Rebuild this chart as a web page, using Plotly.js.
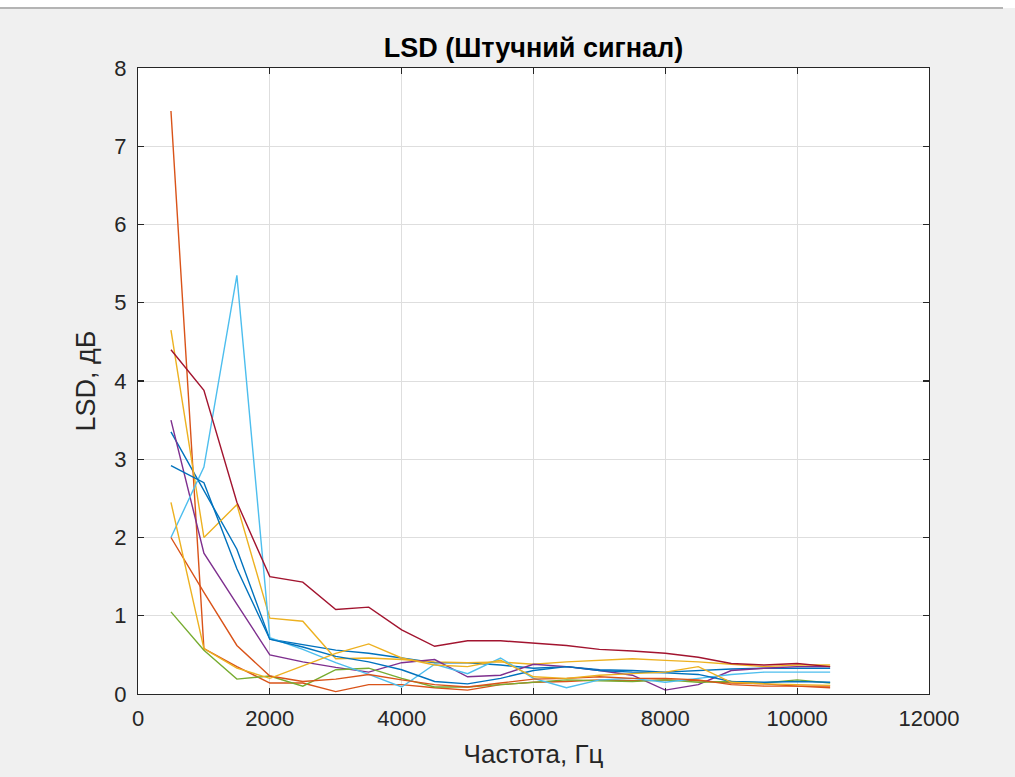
<!DOCTYPE html>
<html>
<head>
<meta charset="utf-8">
<script src="https://cdn.plot.ly/plotly-3.0.1.min.js"></script>
<style>
  html, body { margin: 0; padding: 0; background: #f0f0f0; }
  #chart { width: 1015px; height: 777px; }
</style>
</head>
<body>
<div id="chart"></div>
<script>
// Frequency grid, Hz
const freq = [500, 1000, 1500, 2000, 2500, 3000, 3500, 4000, 4500, 5000, 5500,
              6000, 6500, 7000, 7500, 8000, 8500, 9000, 9500, 10000, 10500];

// Log-spectral distance per test run, dB
const run1  = [3.35, 2.60, 1.85, 0.70, 0.63, 0.56, 0.52, 0.46, 0.40, 0.40, 0.37, 0.33, 0.35, 0.31, 0.30, 0.28, 0.30, 0.32, 0.33, 0.33, 0.33];
const run2  = [7.45, 0.58, 0.35, 0.14, 0.14, 0.03, 0.12, 0.12, 0.08, 0.05, 0.12, 0.15, 0.16, 0.18, 0.17, 0.18, 0.17, 0.14, 0.13, 0.10, 0.08];
const run3  = [4.65, 2.00, 2.42, 0.97, 0.93, 0.45, 0.46, 0.44, 0.41, 0.40, 0.41, 0.38, 0.41, 0.43, 0.45, 0.43, 0.41, 0.38, 0.35, 0.37, 0.37];
const run4  = [3.50, 1.80, 1.15, 0.50, 0.41, 0.34, 0.28, 0.40, 0.44, 0.22, 0.24, 0.38, 0.35, 0.30, 0.24, 0.05, 0.12, 0.30, 0.33, 0.35, 0.35];
const run5  = [1.05, 0.56, 0.19, 0.23, 0.10, 0.31, 0.33, 0.20, 0.09, 0.09, 0.12, 0.15, 0.18, 0.17, 0.16, 0.18, 0.15, 0.16, 0.14, 0.18, 0.14];
const run6  = [2.00, 2.90, 5.35, 0.72, 0.57, 0.40, 0.25, 0.09, 0.38, 0.26, 0.46, 0.20, 0.08, 0.18, 0.20, 0.15, 0.20, 0.25, 0.28, 0.28, 0.28];
const run7  = [4.40, 3.88, 2.45, 1.50, 1.43, 1.08, 1.11, 0.82, 0.61, 0.68, 0.68, 0.65, 0.62, 0.57, 0.55, 0.52, 0.47, 0.39, 0.37, 0.39, 0.35];
const run8  = [2.92, 2.70, 1.60, 0.70, 0.60, 0.48, 0.41, 0.31, 0.16, 0.13, 0.20, 0.30, 0.35, 0.30, 0.28, 0.27, 0.25, 0.16, 0.15, 0.16, 0.15];
const run9  = [2.00, 1.30, 0.62, 0.23, 0.16, 0.19, 0.25, 0.18, 0.12, 0.09, 0.14, 0.19, 0.20, 0.22, 0.20, 0.20, 0.18, 0.12, 0.10, 0.10, 0.10];
const run10 = [2.45, 0.58, 0.33, 0.20, 0.36, 0.52, 0.64, 0.46, 0.37, 0.35, 0.43, 0.22, 0.20, 0.24, 0.26, 0.28, 0.35, 0.15, 0.13, 0.12, 0.11];

const runs = [run1, run2, run3, run4, run5, run6, run7, run8, run9, run10];

// Default line colour order
const colorOrder = ['#0072BD', '#D95319', '#EDB120', '#7E2F8E', '#77AC30', '#4DBEEE', '#A2142F'];

const xTicks = [0, 2000, 4000, 6000, 8000, 10000, 12000];
const yTicks = [0, 1, 2, 3, 4, 5, 6, 7, 8];

const traces = runs.map((vals, i) => ({
  x: freq,
  y: vals,
  type: 'scatter',
  mode: 'lines',
  line: { color: colorOrder[i % colorOrder.length], width: 1.4 },
  hoverinfo: 'x+y'
}));

const font = 'Liberation Sans, Arial, Helvetica, sans-serif';

const axisCommon = {
  showline: true,
  mirror: 'ticks',
  linecolor: '#262626',
  linewidth: 1.2,
  ticks: 'inside',
  ticklen: 6,
  tickcolor: '#262626',
  tickwidth: 1.2,
  showgrid: true,
  gridcolor: '#dedede',
  gridwidth: 1,
  zeroline: false,
  tickfont: { family: font, size: 22, color: '#262626' }
};

const layout = {
  width: 1015,
  height: 777,
  paper_bgcolor: '#f0f0f0',
  plot_bgcolor: '#ffffff',
  showlegend: false,
  margin: { l: 138, r: 86, t: 68, b: 83 },
  title: {
    text: '<b>LSD (Штучний сигнал)</b>',
    font: { family: font, size: 27, color: '#000000' },
    x: 0.5, xref: 'paper', xanchor: 'center',
    y: 1 - 48 / 777, yref: 'container', yanchor: 'middle'
  },
  xaxis: Object.assign({}, axisCommon, {
    range: [0, 12000],
    tickvals: xTicks,
    ticktext: xTicks.map(String),
    ticklabelstandoff: 4,
    title: { text: 'Частота, Гц', font: { family: font, size: 26, color: '#262626' }, standoff: 15 }
  }),
  yaxis: Object.assign({}, axisCommon, {
    range: [0, 8],
    tickvals: yTicks,
    ticktext: yTicks.map(String),
    ticklabelstandoff: 6,
    title: { text: 'LSD, дБ', font: { family: font, size: 27, color: '#262626' }, standoff: 10 }
  }),
  shapes: [
    { type: 'rect', xref: 'paper', yref: 'paper',
      x0: -138 / 791, x1: 877 / 791, y0: (694 - 8) / 626, y1: 694 / 626,
      fillcolor: '#ffffff', line: { width: 0 }, layer: 'below' },
    { type: 'line', xref: 'paper', yref: 'paper',
      x0: -138 / 791, x1: 865 / 791, y0: (694 - 8) / 626, y1: (694 - 8) / 626,
      line: { color: '#b4b4b4', width: 2 } }
  ]
};

Plotly.newPlot('chart', traces, layout, { displayModeBar: false, staticPlot: true });
</script>
</body>
</html>
